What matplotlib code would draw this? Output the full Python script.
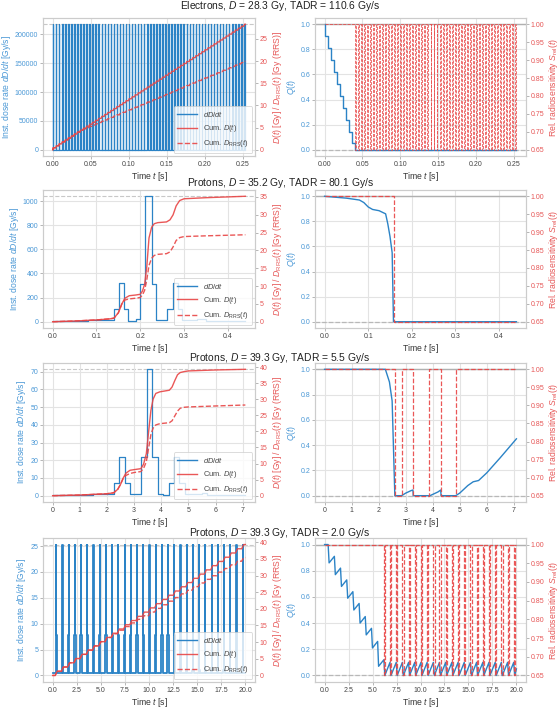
import numpy as np
import matplotlib
matplotlib.use("Agg")
import matplotlib.pyplot as plt

plt.rcParams.update({
    "font.family": ["Liberation Sans", "DejaVu Sans"],
    "mathtext.fontset": "custom",
    "mathtext.rm": "Liberation Sans",
    "mathtext.it": "Liberation Sans:italic",
    "axes.edgecolor": "#cccccc",
    "axes.linewidth": 0.8,
    "grid.color": "#e3e3e3",
    "grid.linewidth": 0.8,
})

BLUE = "#2b83c6"
RED = "#e84545"
BLUE_TXT = "#4a98d6"
RED_TXT = "#e65656"

# ---------------- row 1: electrons ----------------
e_title = r"Electrons, $D$ = 28.3 Gy, TADR = 110.6 Gy/s"
e_pulse_t = [0.000, 0.004, 0.008, 0.012, 0.016, 0.020, 0.024, 0.028, 0.032, 0.036,
             0.040, 0.044, 0.048, 0.052, 0.056, 0.060, 0.064, 0.068, 0.072, 0.076,
             0.080, 0.084, 0.088, 0.092, 0.096, 0.100, 0.104, 0.108, 0.112, 0.116,
             0.120, 0.124, 0.128, 0.132, 0.136, 0.140, 0.144, 0.148, 0.152, 0.156,
             0.160, 0.164, 0.168, 0.172, 0.176, 0.180, 0.184, 0.188, 0.192, 0.196,
             0.200, 0.204, 0.208, 0.212, 0.216, 0.220, 0.224, 0.228, 0.232, 0.236,
             0.240, 0.244, 0.248, 0.252]
e_rate_max = 217500.0
e_D_tot = 28.3
e_dose_pulse = 28.3 / 64
e_S_pulse = [1.0] * 10 + [0.65] * 54
e_Q_after = [0.905, 0.81, 0.715, 0.62, 0.525, 0.43, 0.335, 0.24, 0.145, 0.05, 0.0]
e_t_end = 0.2535

# ---------------- row 2: protons, 80.1 Gy/s ----------------
p1_title = r"Protons, $D$ = 35.2 Gy, TADR = 80.1 Gy/s"
p1_rate_t = [0.0, 0.08, 0.139, 0.152, 0.164, 0.172, 0.19, 0.2, 0.212, 0.226, 0.237,
             0.261, 0.274, 0.287, 0.296, 0.33, 0.35, 0.44]
p1_rate = [3, 14, 105, 320, 105, 10, 22, 315, 1040, 315, 15,
           105, 320, 105, 15, 22, 5, 5]
p1_D_t = [0, 0.05, 0.1, 0.13, 0.14, 0.15, 0.158, 0.165, 0.175, 0.19, 0.2, 0.205, 0.21,
          0.215, 0.22, 0.226, 0.232, 0.24, 0.26, 0.268, 0.275, 0.282, 0.29, 0.3, 0.35, 0.44]
p1_D = [0, 0.2, 0.5, 0.8, 1.0, 2.5, 5.0, 6.6, 7.3, 7.5, 7.7, 8.6, 10.5,
        15.5, 23.5, 26.5, 27.5, 27.8, 28.0, 28.6, 30.0, 32.5, 34.0, 34.5, 34.8, 35.2]
p1_R = [0, 0.2, 0.5, 0.8, 1.0, 2.5, 5.0, 6.1, 6.4, 6.6, 6.8, 7.5, 8.8,
        11.8, 15.8, 17.8, 18.6, 18.9, 19.1, 19.6, 21.0, 22.8, 23.6, 23.9, 24.1, 24.4]
p1_rate_max = 1040.0
p1_D_tot = 35.2
p1_Q_t = [0, 0.05, 0.08, 0.09, 0.1, 0.11, 0.125, 0.14, 0.145, 0.15, 0.155, 0.158, 0.44]
p1_Q = [1.0, 0.985, 0.97, 0.95, 0.915, 0.895, 0.885, 0.86, 0.78, 0.68, 0.55, 0.0, 0.0]
p1_S_t = [0, 0.16, 0.44]
p1_S = [1.0, 0.65, 0.65]

# ---------------- row 3: protons, 5.5 Gy/s ----------------
p2_title = r"Protons, $D$ = 39.3 Gy, TADR = 5.5 Gy/s"
p2_rate_t = [0, 1.0, 1.5, 2.26, 2.44, 2.65, 2.84, 3.07, 3.26, 3.46, 3.66, 3.87, 4.05,
             4.27, 4.46, 4.66, 4.87, 5.5, 5.7, 7.1]
p2_rate = [0.2, 0.5, 1.2, 7, 22, 7, 0.7, 1.2, 22, 71.3, 22, 1.2, 0.5,
           7, 22, 7, 0.7, 1.3, 0.3, 0.3]
p2_D_t = [0, 1.0, 2.0, 2.25, 2.4, 2.5, 2.6, 2.7, 2.85, 3.0, 3.25, 3.35, 3.45, 3.55,
          3.62, 3.7, 3.8, 3.95, 4.3, 4.4, 4.5, 4.6, 4.7, 4.85, 5.0, 6.0, 7.1]
p2_D = [0, 0.2, 0.6, 0.9, 2.0, 3.5, 5.5, 7.0, 7.9, 8.1, 8.4, 9.8, 13.0, 21.0,
        26.5, 30.0, 31.8, 32.3, 32.8, 33.8, 35.8, 37.6, 38.3, 38.6, 38.8, 39.1, 39.3]
p2_R = [0, 0.2, 0.6, 0.9, 2.0, 3.5, 5.4, 6.3, 6.9, 7.2, 7.5, 8.5, 10.5, 15.5,
        19.0, 21.0, 22.0, 22.4, 22.7, 23.3, 24.8, 26.3, 27.2, 27.5, 27.6, 27.9, 28.2]
p2_rate_max = 71.3
p2_D_tot = 39.3
p2_Q_t = [0, 2.25, 2.4, 2.5, 2.6, 2.85, 3.0, 3.2, 3.27, 3.28, 3.9, 4.0, 4.2, 4.3, 4.31,
          4.85, 5.0, 5.3, 5.5, 5.7, 6.0, 6.5, 7.1]
p2_Q = [1, 1, 0.9, 0.75, 0, 0, 0.02, 0.04, 0.045, 0, 0, 0.01, 0.03, 0.045, 0,
        0, 0.02, 0.08, 0.11, 0.12, 0.18, 0.3, 0.45]
p2_S_t = [0, 2.62, 2.85, 3.28, 3.85, 4.32, 4.88, 7.1]
p2_S = [1.0, 0.65, 1.0, 0.65, 1.0, 0.65, 1.0, 1.0]

# ---------------- row 4: protons, 2.0 Gy/s ----------------
p3_title = r"Protons, $D$ = 39.3 Gy, TADR = 2.0 Gy/s"
p3_pulse_t = [0.37, 1.02, 1.66, 2.31, 2.95, 3.60, 4.24, 4.89, 5.53, 6.18, 6.82, 7.47,
              8.11, 8.76, 9.40, 10.05, 10.69, 11.34, 11.98, 12.63, 13.27, 13.92, 14.56,
              15.21, 15.85, 16.50, 17.14, 17.79, 18.43, 19.08, 19.72]
p3_peak = 25.3
p3_shoulder = [7.8] * 21 + [1.0] * 10
p3_base = 0.4
p3_D_tot = 39.3
p3_dose_pulse = [39.3 / 31] * 31
p3_rrs_pulse = [39.3 / 31] * 9 + [1.09] * 22
p3_Q_peak = [1.0, 0.91, 0.82, 0.73, 0.64, 0.55, 0.45, 0.36, 0.26, 0.12] + [0.10] * 21
p3_Q_min = [0.86, 0.77, 0.68, 0.59, 0.50, 0.40, 0.31, 0.21, 0.07] + [0.0] * 22
p3_Q_end = 0.05
p3_t_end = 20.0
p3_depleted_from = 9

TICK_FS = 5.0
LABEL_FS = 6.2


def pulse_rate(times, width, heights, base):
    t, r = [0.0], [base]
    for t0, h in zip(times, heights):
        t += [t0, t0, t0 + width, t0 + width]
        r += [base, h, h, base]
    return t, r


def stair(times, doses, rise, t_end):
    t, d = [0.0], [0.0]
    for t0, dd in zip(times, doses):
        t += [t0 - rise, t0 + rise]
        d += [d[-1], d[-1] + dd]
    t.append(t_end)
    d.append(d[-1])
    return t, d


def setup_axes(ax, ax2, left_label, right_label, lcol, rcol):
    ax.grid(True)
    ax2.grid(False)
    ax.set_axisbelow(True)
    for a in (ax, ax2):
        a.tick_params(length=2, width=0.6, color="#aaaaaa", pad=1.5, labelsize=TICK_FS)
        for s in a.spines.values():
            s.set_color("#cccccc")
    ax.tick_params(axis="x", labelcolor="#444444")
    ax.tick_params(axis="y", labelcolor=lcol)
    ax2.tick_params(axis="y", labelcolor=rcol)
    ax.set_ylabel(left_label, color=lcol, fontsize=LABEL_FS, labelpad=1.5)
    ax2.set_ylabel(right_label, color=rcol, fontsize=LABEL_FS, labelpad=2)
    ax.set_xlabel(r"Time $t$ [s]", fontsize=LABEL_FS, labelpad=1.5, color="#333333")


def dose_panel(ax, rate_t, rate, D_t, D, R_t, R, rate_max, D_tot, step_rate, yticks, y2ticks,
               xticks, rate_lw=0.9):
    ax2 = ax.twinx()
    if step_rate:
        ax.step(rate_t, rate, where="post", color=BLUE, lw=rate_lw, label=r"$dD/dt$")
    else:
        ax.plot(rate_t, rate, color=BLUE, lw=rate_lw, label=r"$dD/dt$")
    ax.axhline(rate_max, color="#c8c8c8", lw=0.8, ls="--", zorder=0)
    ax.set_ylim(-0.05 * rate_max, 1.05 * rate_max)
    ax2.plot(D_t, D, color=RED, lw=1.0, alpha=0.9, label=r"Cum. $D(t)$")
    ax2.plot(R_t, R, color=RED, lw=1.0, alpha=0.9, ls="--", label=r"Cum. $D_{\rm RRS}(t)$")
    ax2.set_ylim(-0.05 * D_tot, 1.05 * D_tot)
    ax.set_yticks(yticks)
    ax2.set_yticks(y2ticks)
    ax.set_xticks(xticks)
    setup_axes(ax, ax2, r"Inst. dose rate $dD/dt$ [Gy/s]",
               r"$D(t)$ [Gy] / $D_{\rm RRS}(t)$ [Gy (RRS)]", BLUE_TXT, RED_TXT)
    h1, l1 = ax.get_legend_handles_labels()
    h2, l2 = ax2.get_legend_handles_labels()
    h1 = [plt.Line2D([], [], color=BLUE, lw=1.0)]
    leg = ax2.legend(h1 + h2, l1 + l2, loc="lower right", fontsize=5.4, frameon=True,
                     handlelength=2.6, borderpad=0.5, labelspacing=0.55, borderaxespad=0.4)
    leg.get_frame().set_edgecolor("#cccccc")
    leg.get_frame().set_linewidth(0.6)
    for txt in leg.get_texts():
        txt.set_color("#444444")


def q_panel(ax, Q_t, Q, S_t, S, xticks, s_lw=0.9):
    ax2 = ax.twinx()
    ax.axhline(1.0, color="#b0b0b0", lw=1.0, zorder=1)
    ax.axhline(0.0, color="#b8b8b8", lw=0.9, ls="--", zorder=1)
    ax.plot(Q_t, Q, color=BLUE, lw=1.0, zorder=3)
    ax2.step(S_t, S, where="post", color=RED, lw=s_lw, ls="--", alpha=0.9)
    ax.set_ylim(-0.05, 1.05)
    ax2.set_ylim(0.65 - 0.0175, 1.0 + 0.0175)
    ax.set_yticks([0.0, 0.2, 0.4, 0.6, 0.8, 1.0])
    ax2.set_yticks([0.65, 0.70, 0.75, 0.80, 0.85, 0.90, 0.95, 1.00])
    ax2.set_yticklabels(["0.65", "0.70", "0.75", "0.80", "0.85", "0.90", "0.95", "1.00"])
    ax.set_xticks(xticks)
    setup_axes(ax, ax2, r"$Q(t)$", r"Rel. radiosensitivity $S_{\rm rel}(t)$", BLUE_TXT, RED_TXT)


fig = plt.figure(figsize=(5.6, 7.09), dpi=100)
W, H = 560.0, 709.0


def add_ax(x0, x1, y0, y1):
    return fig.add_axes([x0 / W, 1 - y1 / H, (x1 - x0) / W, (y1 - y0) / H])


rows = [(18, 156), (190, 328), (363, 502), (538, 682)]
title_y = [6, 183, 358, 533]
for (y0, y1), ty, title in zip(rows, title_y, [e_title, p1_title, p2_title, p3_title]):
    fig.text(0.5, 1 - ty / H, title, ha="center", va="center", fontsize=7.4, color="#222222")

axL = [add_ax(43, 255, y0, y1) for (y0, y1) in rows]
axR = [add_ax(315, 526, y0, y1) for (y0, y1) in rows]

# row 1
rt, rr = pulse_rate(e_pulse_t, 0.0006, [e_rate_max] * len(e_pulse_t), 0.0)
Dt, Dv = stair(e_pulse_t, [e_dose_pulse] * len(e_pulse_t), 0.0004, e_t_end)
Rt, Rv = stair(e_pulse_t, [e_dose_pulse * s for s in e_S_pulse], 0.0004, e_t_end)
dose_panel(axL[0], rt, rr, Dt, Dv, Rt, Rv, e_rate_max, e_D_tot, False,
           [0, 50000, 100000, 150000, 200000], [0, 5, 10, 15, 20, 25],
           [0.0, 0.05, 0.10, 0.15, 0.20, 0.25], rate_lw=0.9)
axL[0].xaxis.set_major_formatter(matplotlib.ticker.FormatStrFormatter("%.2f"))
qt, qv = [0.0], [1.0]
for t0, v in zip(e_pulse_t, e_Q_after):
    qt += [t0, t0]
    qv += [qv[-1], v]
qt.append(e_t_end)
qv.append(0.0)
st, sv = [0.0], [1.0]
for t0, s in zip(e_pulse_t, e_S_pulse):
    if s < 1.0:
        st += [t0, t0 + 0.0012]
        sv += [0.65, 1.0]
st.append(e_t_end)
sv.append(1.0)
q_panel(axR[0], qt, qv, st, sv, [0.0, 0.05, 0.10, 0.15, 0.20, 0.25], s_lw=0.6)
axR[0].xaxis.set_major_formatter(matplotlib.ticker.FormatStrFormatter("%.2f"))

# row 2
dose_panel(axL[1], p1_rate_t, p1_rate, p1_D_t, p1_D, p1_D_t, p1_R, p1_rate_max, p1_D_tot, True,
           [0, 200, 400, 600, 800, 1000], [0, 5, 10, 15, 20, 25, 30, 35],
           [0.0, 0.1, 0.2, 0.3, 0.4])
q_panel(axR[1], p1_Q_t, p1_Q, p1_S_t, p1_S, [0.0, 0.1, 0.2, 0.3, 0.4])

# row 3
dose_panel(axL[2], p2_rate_t, p2_rate, p2_D_t, p2_D, p2_D_t, p2_R, p2_rate_max, p2_D_tot, True,
           [0, 10, 20, 30, 40, 50, 60, 70], [0, 5, 10, 15, 20, 25, 30, 35, 40],
           [0, 1, 2, 3, 4, 5, 6, 7])
q_panel(axR[2], p2_Q_t, p2_Q, p2_S_t, p2_S, [0, 1, 2, 3, 4, 5, 6, 7])

# row 4
rt, rr = [0.0], [p3_base]
for t0, sh in zip(p3_pulse_t, p3_shoulder):
    rt += [t0 - 0.07, t0 - 0.07, t0 - 0.012, t0 - 0.012, t0 + 0.012, t0 + 0.012, t0 + 0.07, t0 + 0.07]
    rr += [p3_base, sh, sh, p3_peak, p3_peak, sh, sh, p3_base]
rt.append(p3_t_end)
rr.append(p3_base)
Dt, Dv = stair(p3_pulse_t, p3_dose_pulse, 0.1, p3_t_end)
Rt, Rv = stair(p3_pulse_t, p3_rrs_pulse, 0.1, p3_t_end)
dose_panel(axL[3], rt, rr, Dt, Dv, Rt, Rv, p3_peak, p3_D_tot, False,
           [0, 5, 10, 15, 20, 25], [0, 5, 10, 15, 20, 25, 30, 35, 40],
           [0.0, 2.5, 5.0, 7.5, 10.0, 12.5, 15.0, 17.5, 20.0], rate_lw=1.3)
qt, qv = [0.0], [1.0]
for t0, pk, mn in zip(p3_pulse_t, p3_Q_peak, p3_Q_min):
    qt += [t0, t0 + 0.1]
    qv += [pk, mn]
qt.append(p3_t_end)
qv.append(p3_Q_end)
st, sv = [0.0], [1.0]
for k, t0 in enumerate(p3_pulse_t):
    if k >= p3_depleted_from:
        st += [t0, t0 + 0.12]
        sv += [0.65, 1.0]
st.append(p3_t_end)
sv.append(1.0)
q_panel(axR[3], qt, qv, st, sv, [0.0, 2.5, 5.0, 7.5, 10.0, 12.5, 15.0, 17.5, 20.0])

fig.savefig("out.png", dpi=100)
